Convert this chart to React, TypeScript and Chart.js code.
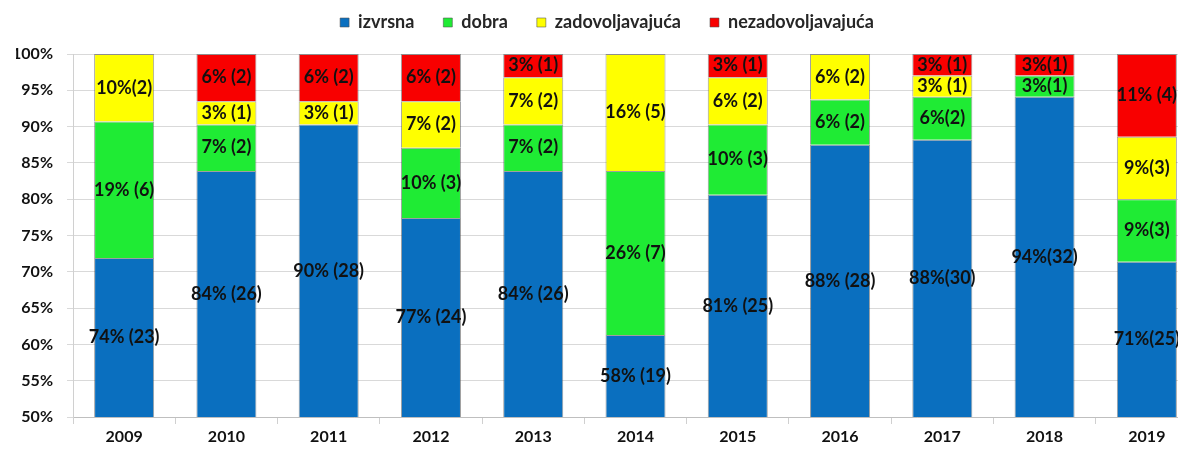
import React, { useEffect, useRef } from "react";
import { Chart, registerables } from "chart.js";

Chart.register(...registerables);

const years = ["2009", "2010", "2011", "2012", "2013", "2014", "2015", "2016", "2017", "2018", "2019"];

// segment heights (% of total)
const izvrsna = [71.9, 83.9, 90.3, 77.4, 83.9, 61.3, 80.6, 87.5, 88.2, 94.1, 71.4];
const dobra = [18.8, 6.4, null, 9.7, 6.4, 22.6, 9.7, 6.25, 5.9, 2.95, 8.6];
const zadovoljavajuca = [9.3, 3.2, 3.2, 6.4, 6.5, 16.1, 6.5, 6.25, 2.95, null, 8.6];
const nezadovoljavajuca = [null, 6.5, 6.5, 6.5, 3.2, null, 3.2, null, 2.95, 2.95, 11.4];

// data labels as printed in the chart
const izvrsnaLabels = ["74% (23)", "84% (26)", "90% (28)", "77% (24)", "84% (26)", "58% (19)", "81% (25)", "88% (28)", "88%(30)", "94%(32)", "71%(25)"];
const dobraLabels = ["19% (6)", "7% (2)", "", "10% (3)", "7% (2)", "26% (7)", "10% (3)", "6% (2)", "6%(2)", "3%(1)", "9%(3)"];
const zadovoljavajucaLabels = ["10%(2)", "3% (1)", "3% (1)", "7% (2)", "7% (2)", "16% (5)", "6% (2)", "6% (2)", "3% (1)", "", "9%(3)"];
const nezadovoljavajucaLabels = ["", "6% (2)", "6% (2)", "6% (2)", "3% (1)", "", "3% (1)", "", "3% (1)", "3%(1)", "11% (4)"];

const yTicks = [50, 55, 60, 65, 70, 75, 80, 85, 90, 95, 100];

const FONT = "Lato";

const segmentLabels = {
  id: "segmentLabels",
  afterDatasetsDraw(chart: any) {
    const { ctx, chartArea } = chart;
    ctx.save();
    ctx.font = `bold 18px ${FONT}`;
    ctx.fillStyle = "#111111";
    ctx.textAlign = "center";
    ctx.textBaseline = "middle";
    chart.data.datasets.forEach((ds: any, i: number) => {
      const meta = chart.getDatasetMeta(i);
      meta.data.forEach((el: any, j: number) => {
        const text = ds.segLabels[j];
        if (!text) return;
        const { x, y, base } = el.getProps(["x", "y", "base"], true);
        const top = Math.max(Math.min(y, base), chartArea.top);
        const bottom = Math.min(Math.max(y, base), chartArea.bottom);
        if (bottom - top < 1) return;
        ctx.fillText(text, x, (top + bottom) / 2);
      });
    });
    ctx.restore();
  },
};

export default function App() {
  const ref = useRef<HTMLCanvasElement>(null);

  useEffect(() => {
    if (!ref.current) return;
    const border = "rgba(80,80,80,0.55)";
    const chart = new Chart(ref.current, {
      type: "bar",
      data: {
        labels: years,
        datasets: [
          { label: "izvrsna", data: izvrsna, backgroundColor: "#0A6FBF", borderColor: border, borderWidth: 1, segLabels: izvrsnaLabels } as any,
          { label: "dobra", data: dobra, backgroundColor: "#1FEB34", borderColor: border, borderWidth: 1, segLabels: dobraLabels } as any,
          { label: "zadovoljavajuća", data: zadovoljavajuca, backgroundColor: "#FFFF00", borderColor: border, borderWidth: 1, segLabels: zadovoljavajucaLabels } as any,
          { label: "nezadovoljavajuća", data: nezadovoljavajuca, backgroundColor: "#F80000", borderColor: border, borderWidth: 1, segLabels: nezadovoljavajucaLabels } as any,
        ],
      },
      options: {
        responsive: false,
        animation: false,
        layout: { padding: { top: -23.5, left: 8, right: 0, bottom: 0 } },
        datasets: { bar: { categoryPercentage: 1, barPercentage: 0.587 } },
        plugins: {
          legend: {
            position: "top",
            weight: 3000,
            labels: {
              boxWidth: 9,
              boxHeight: 9,
              padding: 29,
              color: "#262626",
              font: { family: FONT, size: 18, weight: "bold" },
            },
          } as any,
          title: { display: true, text: " ", padding: { top: 4, bottom: 5.5 }, font: { size: 2.5 } },
          tooltip: { enabled: false },
        },
        scales: {
          x: {
            stacked: true,
            grid: { drawOnChartArea: false, drawTicks: true, tickLength: 7, color: "#d0d0d0" },
            border: { display: true, color: "#bfbfbf" },
            ticks: { color: "#111111", padding: 3, font: { family: FONT, size: 16, weight: "bold" } },
            afterFit: (scale: any) => { scale.height = 33; },
          },
          y: {
            stacked: true,
            min: 50,
            max: 100,
            afterBuildTicks: (scale: any) => { scale.ticks = yTicks.map((v) => ({ value: v })); },
            grid: { color: "#d9d9d9", tickLength: 6 },
            border: { display: true, color: "#d0d0d0" },
            ticks: {
              color: "#111111",
              padding: 14,
              font: { family: FONT, size: 16, weight: "bold" },
              callback: (v: any) => v + "%",
            },
            afterFit: (scale: any) => { scale.width = 57; },
          },
        },
      },
      plugins: [segmentLabels],
    });
    return () => chart.destroy();
  }, []);

  return (
    <div style={{ width: 1170, height: 442, overflow: "hidden", marginBottom: -8 }}>
      <canvas ref={ref} width={1190} height={442} style={{ display: "block" }} />
    </div>
  );
}
